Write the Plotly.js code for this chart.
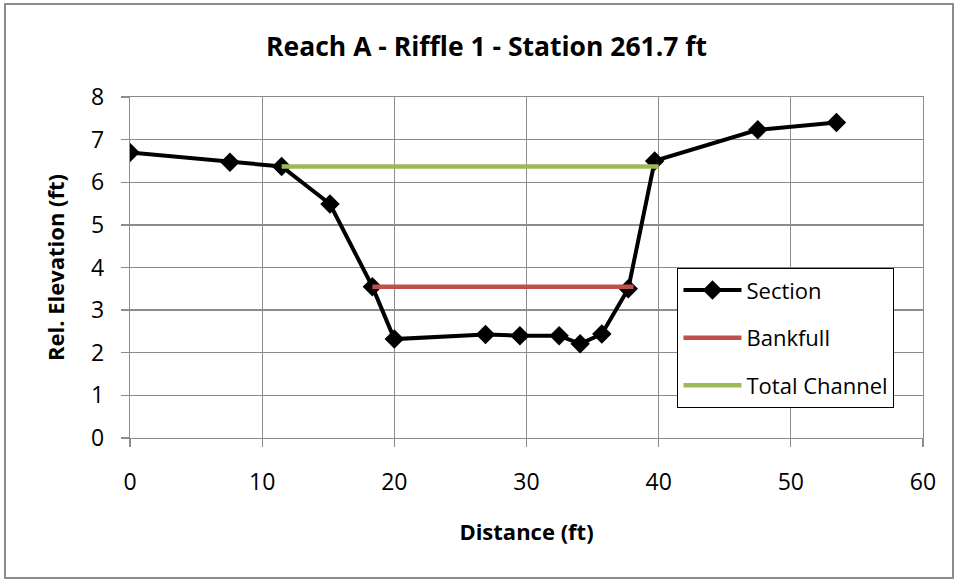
<!DOCTYPE html>
<html>
<head>
<meta charset="utf-8">
<script src="https://cdn.plot.ly/plotly-3.0.1.min.js"></script>
<style>
  html, body { margin: 0; padding: 0; background: #fff; }
  #wrap { position: relative; width: 956px; height: 579px; }
  #chart { width: 956px; height: 579px; }
  #frame { position: absolute; left: 4px; top: 3px; width: 946px; height: 572px;
           border: 2px solid #8c8c8c; pointer-events: none; }
</style>
</head>
<body>
<div id="wrap">
  <div id="chart"></div>
  <div id="frame"></div>
</div>
<script>
// Data
const sectionDistance = [0, 7.56, 11.47, 15.13, 18.34, 20.0, 26.9, 29.5, 32.47, 34.06, 35.7, 37.7, 39.7, 47.5, 53.45];
const sectionElevation = [6.70, 6.47, 6.37, 5.49, 3.55, 2.32, 2.43, 2.40, 2.40, 2.21, 2.44, 3.50, 6.50, 7.23, 7.40];
const bankfullDistance = [18.34, 38.1];
const bankfullElevation = [3.55, 3.55];
const totalDistance = [11.47, 40.0];
const totalElevation = [6.37, 6.37];

const tickFont = { family: 'Open Sans, sans-serif', size: 23, color: '#000' };
const boldFont = { family: 'Open Sans, sans-serif', size: 22, color: '#000', weight: 'bold' };

const traces = [
  { x: sectionDistance, y: sectionElevation, name: 'Section', mode: 'lines+markers', legendgroup: 'a',
    line: { color: '#000', width: 4 }, marker: { symbol: 'diamond', size: 15, color: '#000' } },
  { x: bankfullDistance, y: bankfullElevation, name: 'Bankfull', mode: 'lines', legendgroup: 'b',
    line: { color: '#C0504D', width: 4.5 } },
  { x: totalDistance, y: totalElevation, name: 'Total Channel', mode: 'lines', legendgroup: 'c',
    line: { color: '#9BBB59', width: 4.5 } }
];

const axisCommon = {
  showgrid: true, gridcolor: '#8c8c8c', gridwidth: 1.3,
  showline: true, linecolor: '#8c8c8c', linewidth: 1.3, mirror: true,
  zeroline: false, ticks: 'outside', ticklen: 8, tickcolor: '#8c8c8c', tickwidth: 1.3,
  tickfont: tickFont, automargin: false
};

const layout = {
  width: 956, height: 579,
  margin: { l: 130, r: 33, t: 97, b: 141 },
  paper_bgcolor: '#fff', plot_bgcolor: '#fff',
  title: { text: 'Reach A - Riffle 1 - Station 261.7 ft', xref: 'container', x: 0.509, xanchor: 'center',
           yref: 'container', y: 1 - 47 / 579, yanchor: 'middle',
           font: { family: 'Open Sans, sans-serif', size: 26.5, color: '#000', weight: 'bold' } },
  xaxis: Object.assign({}, axisCommon, { range: [0, 60], dtick: 10, tick0: 0, ticklabelstandoff: 15,
           title: { text: 'Distance (ft)', font: boldFont, standoff: 28 } }),
  yaxis: Object.assign({}, axisCommon, { range: [0, 8], dtick: 1, tick0: 0, ticklabelstandoff: 12,
           title: { text: 'Rel. Elevation (ft)', font: boldFont, standoff: 20 } }),
  showlegend: true,
  legend: { x: 0.69, y: 0.4985, xanchor: 'left', yanchor: 'top',
            bgcolor: '#fff', bordercolor: '#000', borderwidth: 1.3,
            font: { family: 'Open Sans, sans-serif', size: 22, color: '#000' },
            traceorder: 'grouped', tracegroupgap: 16, itemwidth: 58 }
};

Plotly.newPlot('chart', traces, layout, { displayModeBar: false, staticPlot: true });
</script>
</body>
</html>
